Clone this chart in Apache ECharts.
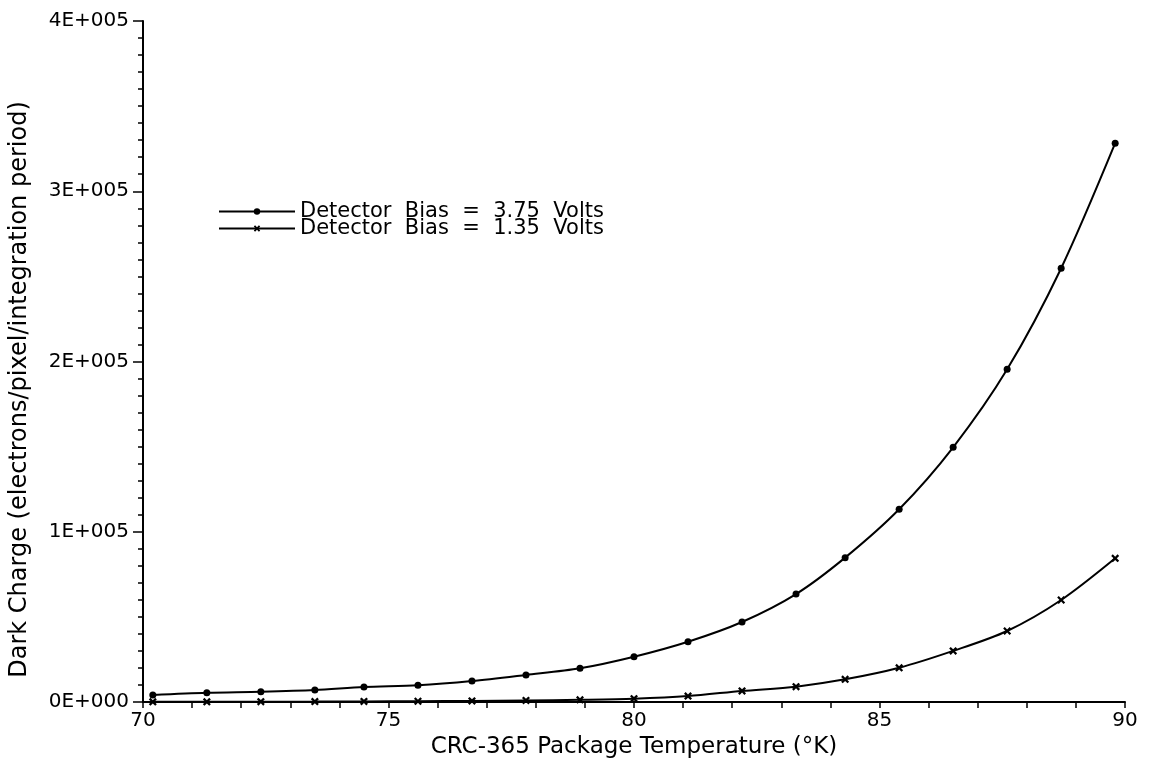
<!DOCTYPE html>
<html>
<head>
<meta charset="utf-8">
<title>Dark Charge</title>
<script src="https://cdn.jsdelivr.net/npm/echarts@6/dist/echarts.min.js"></script>
<style>
	html, body { margin: 0; padding: 0; background: #fff; }
	#darkChart { width: 1151px; height: 768px; }
</style>
</head>
<body>
<div id="darkChart"></div>
<script>
// package temperature (K)
var temperature = [70.2, 71.3, 72.4, 73.5, 74.5, 75.6, 76.7, 77.8, 78.9, 80.0, 81.1, 82.2, 83.3, 84.3, 85.4, 86.5, 87.6, 88.7, 89.8];
// dark charge, bias 3.75 V
var bias375 = [4100, 5400, 6000, 7000, 8800, 9800, 12300, 15900, 19800, 26600, 35400, 47000, 63400, 84800, 113200, 149600, 195400, 254800, 328200];
// dark charge, bias 1.35 V
var bias135 = [100, 130, 180, 250, 330, 450, 650, 900, 1300, 1950, 3500, 6500, 9000, 13300, 20100, 30000, 41700, 59900, 84400];
var seriesNames = ['Detector Bias = 3.75 Volts', 'Detector Bias = 1.35 Volts'];
var yTickLabels = ['0E+000', '1E+005', '2E+005', '3E+005', '4E+005'];
var xTickLabels = ['70', '75', '80', '85', '90'];

var textFont = 'DejaVu Sans';
//小叉号标记
var crossPath = 'path://M0,2L2,0L5,3L8,0L10,2L7,5L10,8L8,10L5,7L2,10L0,8L3,5Z';

function pairs(xs, ys) {
	var out = [];
	for(var i = 0; i < xs.length; i++) {
		out.push([xs[i], ys[i]]);
	}
	return out;
}

var myChart = echarts.init(document.getElementById('darkChart'));

var option = {
	backgroundColor: '#fff',
	animation: false,
	grid: {
		left: 143,
		right: 26,
		top: 21,
		bottom: 66
	},
	legend: {
		orient: 'vertical',
		left: 213,
		top: 196,
		itemWidth: 76,
		itemHeight: 8,
		itemGap: -4,
		data: seriesNames,
		//原图单词间距较宽
		formatter: function(name) {
			return name.split(' ').join('  ');
		},
		textStyle: {
			color: '#000',
			fontFamily: textFont,
			fontSize: 21
		}
	},
	xAxis: {
		type: 'value',
		min: 70,
		max: 90,
		interval: 5,
		name: 'CRC-365 Package Temperature (°K)',
		nameLocation: 'middle',
		nameGap: 32,
		nameTextStyle: {
			color: '#000',
			fontFamily: textFont,
			fontSize: 23
		},
		axisLine: { lineStyle: { color: '#000', width: 2 } },
		axisTick: { show: true, length: 6, lineStyle: { color: '#000', width: 1.5 } },
		minorTick: { show: true, splitNumber: 5, length: 6, lineStyle: { color: '#000', width: 1.5 } },
		splitLine: { show: false },
		axisLabel: {
			color: '#000',
			fontFamily: textFont,
			fontSize: 20,
			margin: 9,
			formatter: function(v) {
				return xTickLabels[Math.round((v - 70) / 5)];
			}
		}
	},
	yAxis: {
		type: 'value',
		min: 0,
		max: 400000,
		interval: 100000,
		name: 'Dark Charge (electrons/pixel/integration period)',
		nameLocation: 'middle',
		nameGap: 111,
		nameTextStyle: {
			color: '#000',
			fontFamily: textFont,
			fontSize: 24,
			//整体往下移一点
			padding: [0, 56, 0, 0]
		},
		axisLine: { lineStyle: { color: '#000', width: 2 } },
		axisTick: { show: true, length: 10, lineStyle: { color: '#000', width: 1.5 } },
		minorTick: { show: true, splitNumber: 10, length: 5, lineStyle: { color: '#000', width: 1.5 } },
		splitLine: { show: false },
		axisLabel: {
			color: '#000',
			fontFamily: textFont,
			fontSize: 20,
			margin: 14,
			formatter: function(v) {
				return yTickLabels[Math.round(v / 100000)];
			}
		}
	},
	series: [
		{
			name: seriesNames[0],
			type: 'line',
			data: pairs(temperature, bias375),
			smooth: 0.3,
			symbol: 'circle',
			symbolSize: 7,
			lineStyle: { color: '#000', width: 2 },
			itemStyle: { color: '#000' }
		},
		{
			name: seriesNames[1],
			type: 'line',
			data: pairs(temperature, bias135),
			smooth: 0.3,
			symbol: crossPath,
			symbolSize: 8,
			lineStyle: { color: '#000', width: 2 },
			itemStyle: { color: '#000' }
		}
	]
};
myChart.setOption(option);
</script>
</body>
</html>
